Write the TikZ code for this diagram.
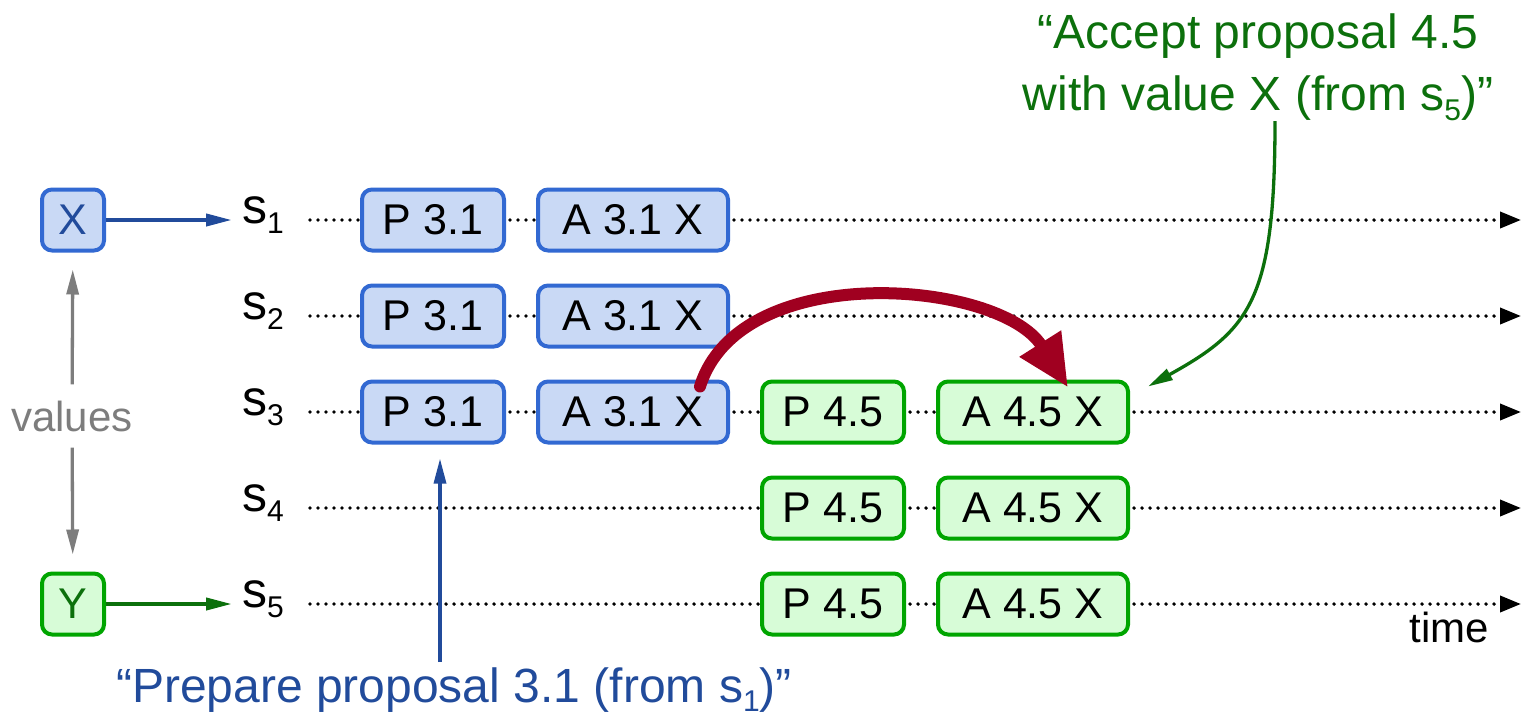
\documentclass[tikz,border=0pt]{standalone}
\usepackage{fontspec}
\setmainfont{Liberation Sans}
\usetikzlibrary{arrows.meta}
\definecolor{pborder}{RGB}{50,105,210}
\definecolor{pfill}{RGB}{201,217,245}
\definecolor{gborder}{RGB}{0,165,0}
\definecolor{gfill}{RGB}{215,252,215}
\definecolor{dblue}{RGB}{33,75,155}
\definecolor{dgreen}{RGB}{12,112,12}
\definecolor{hand}{RGB}{160,0,32}
\definecolor{valgray}{RGB}{125,125,125}
\newcommand{\ssub}[1]{\raisebox{-0.2em}{\fontsize{30}{30}\selectfont #1}}

\begin{document}
\begin{tikzpicture}[x=1pt, y=-1pt,
  box/.style={draw, rounded corners=10pt, line width=4pt, minimum height=61pt, inner sep=0pt, font=\fontsize{43}{50}\selectfont},
  oldbox/.style={box, draw=pborder, fill=pfill},
  newbox/.style={box, draw=gborder, fill=gfill},
  pbox/.style={minimum width=142pt},
  abox/.style={minimum width=190pt},
  srv/.style={anchor=base west, inner sep=0pt, font=\fontsize{50}{50}\selectfont},
  ann/.style={inner sep=0pt, font=\fontsize{48}{62}\selectfont},
  timeline/.style={line width=3.8pt, line cap=round, dash pattern=on 0pt off 8pt, shorten <=26pt, -{Triangle[length=21pt,width=16pt]}},
  feed/.style={line width=4pt, shorten >=10pt, -{Triangle[length=26pt,width=12pt]}},
  valarrow/.style={valgray, line width=3.3pt, shorten >=17pt, -{Triangle[length=25pt,width=12pt]}},
  pointer/.style={line width=3.3pt, -{Triangle[length=25pt,width=12pt]}}]
  \useasboundingbox (0,0) rectangle (1523,718);

  \node[box, draw=pborder, fill=pfill, minimum width=62pt, text=dblue] (xv) at (73,220) {X};
  \node[box, draw=gborder, fill=gfill, minimum width=62pt, text=dgreen] (yv) at (73,604) {Y};
  \node[valgray, inner sep=16pt, font=\fontsize{42}{50}\selectfont] (values) at (72,416) {values};

  \node[srv] (s1) at (242,223) {s\ssub{1}};
  \node[srv] (s2) at (242,319) {s\ssub{2}};
  \node[srv] (s3) at (242,415) {s\ssub{3}};
  \node[srv] (s4) at (242,511) {s\ssub{4}};
  \node[srv] (s5) at (242,607) {s\ssub{5}};
  \coordinate (e1) at (1521,220);
  \coordinate (e2) at (1521,316);
  \coordinate (e3) at (1521,412);
  \coordinate (e4) at (1521,508);
  \coordinate (e5) at (1521,604);
  \draw[timeline] (s1.east |- e1) -- (e1);
  \draw[timeline] (s2.east |- e2) -- (e2);
  \draw[timeline] (s3.east |- e3) -- (e3);
  \draw[timeline] (s4.east |- e4) -- (e4);
  \draw[timeline] (s5.east |- e5) -- (e5);
  \node[font=\fontsize{42}{50}\selectfont, anchor=base, inner sep=0pt] (time) at (1449,642) {time};

  \node[oldbox, pbox] (pa1) at (433,220) {P 3.1};
  \node[oldbox, pbox] (pa2) at (433,316) {P 3.1};
  \node[oldbox, pbox] (pa3) at (433,412) {P 3.1};
  \node[oldbox, abox] (aa1) at (633,220) {A 3.1 X};
  \node[oldbox, abox] (aa2) at (633,316) {A 3.1 X};
  \node[oldbox, abox] (aa3) at (633,412) {A 3.1 X};
  \node[newbox, pbox] (pb3) at (833,412) {P 4.5};
  \node[newbox, pbox] (pb4) at (833,508) {P 4.5};
  \node[newbox, pbox] (pb5) at (833,604) {P 4.5};
  \node[newbox, abox] (ab3) at (1033,412) {A 4.5 X};
  \node[newbox, abox] (ab4) at (1033,508) {A 4.5 X};
  \node[newbox, abox] (ab5) at (1033,604) {A 4.5 X};

  \draw[feed, dblue] (xv) -- (xv -| s1.west);
  \draw[feed, dgreen] (yv) -- (yv -| s5.west);
  \draw[valarrow] (values) -- (xv);
  \draw[valarrow] (values) -- (yv);

  \draw[hand, line width=12pt, line cap=round, -{Triangle[length=52pt,width=46pt]}]
    ([xshift=67pt,yshift=-7pt]aa3.north) .. controls (740,258) and (1000,280) .. ([xshift=35pt,yshift=-8pt]ab3.north);

  \node[ann, text=dblue, anchor=base] (prep) at (454,702) {“Prepare proposal 3.1 (from s\ssub{1})”};
  \node[ann, text=dgreen, align=center, anchor=north] (accept) at (1258,14) {“Accept proposal 4.5\\with value X (from s\ssub{5})”};
  \draw[pointer, dblue, shorten <=5pt] ([xshift=7pt]pa3.south |- prep.north) -- ([xshift=7pt,yshift=-14pt]pa3.south);
  \draw[pointer, dgreen] ([xshift=17pt]accept.south) .. controls (1275,300) and (1250,330) .. ([xshift=18pt,yshift=-7pt]ab3.north east);
\end{tikzpicture}
\end{document}
